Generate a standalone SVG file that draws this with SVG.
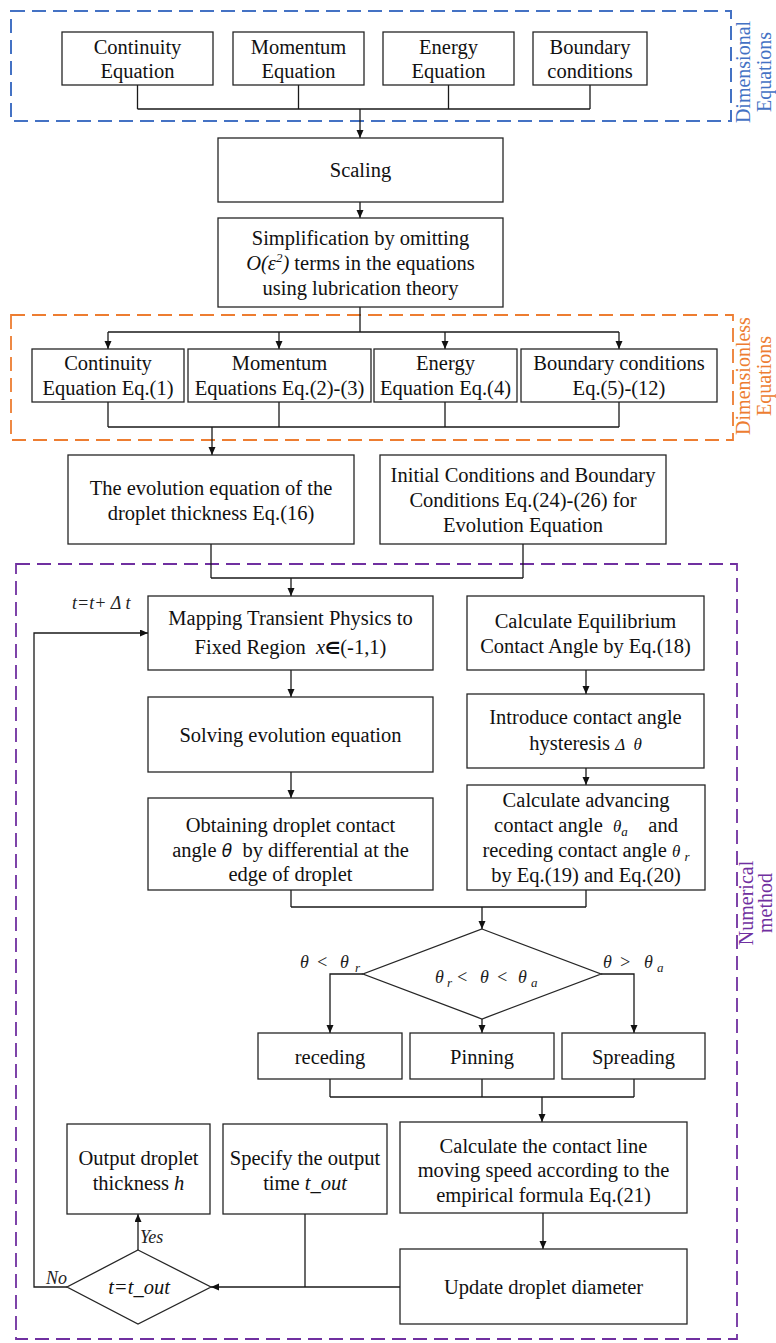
<svg xmlns="http://www.w3.org/2000/svg" width="776" height="1343" viewBox="0 0 776 1343">
<defs>
<marker id="ah" markerWidth="8" markerHeight="8" refX="8" refY="3.5" orient="auto" markerUnits="userSpaceOnUse">
<path d="M0,0 L8,3.5 L0,7 z" fill="#111"/>
</marker>
<style>
.box{fill:#fff;stroke:#262626;stroke-width:1.3}
text{font-family:'Liberation Serif','Times New Roman','DejaVu Serif',serif}
.t{font-size:20.5px;fill:#111;text-anchor:middle}
.i{font-size:18px;fill:#222;font-style:italic}
.c{fill:none;stroke:#1a1a1a;stroke-width:1.3}
.a{fill:none;stroke:#1a1a1a;stroke-width:1.3;marker-end:url(#ah)}
.lab{font-size:20px;text-anchor:middle}
.pre{white-space:pre}
</style>
</defs>
<rect width="776" height="1343" fill="#fff"/>

<g id="frames" fill="none">
<rect x="11" y="11" width="720" height="110" stroke="#4472C4" stroke-width="2" stroke-dasharray="14 7"/>
<rect x="11" y="315" width="722" height="125" stroke="#ED7D31" stroke-width="1.8" stroke-dasharray="14 7"/>
<rect x="16" y="564" width="721" height="775" stroke="#7030A0" stroke-width="1.8" stroke-dasharray="14 7"/>
</g>
<g id="frame-labels" font-family="Liberation Serif, Times New Roman, serif">
<text class="lab" fill="#4472C4" transform="translate(750,72) rotate(-90)">Dimensional</text>
<text class="lab" fill="#4472C4" transform="translate(771,72) rotate(-90)">Equations</text>
<text class="lab" fill="#ED7D31" transform="translate(750,376) rotate(-90)">Dimensionless</text>
<text class="lab" fill="#ED7D31" transform="translate(771,376) rotate(-90)">Equations</text>
<text class="lab" fill="#7030A0" transform="translate(753,903) rotate(-90)">Numerical</text>
<text class="lab" fill="#7030A0" transform="translate(772,903) rotate(-90)">method</text>
</g>

<g id="connectors">
<path class="c" d="M137.5,85 V109 M298.5,85 V109 M448.5,85 V109 M590,85 V109 M137.5,109 H590"/>
<path class="a" d="M360,109 V138"/>
<path class="a" d="M360,202 V218"/>
<path class="c" d="M360,307 V332 M108,332 H619"/>
<path class="a" d="M108,332 V349"/>
<path class="a" d="M279,332 V349"/>
<path class="a" d="M445,332 V349"/>
<path class="a" d="M619,332 V349"/>
<path class="c" d="M108,402 V427 M279,402 V427 M445,402 V427 M619,402 V427 M108,427 H619"/>
<path class="a" d="M212,427 V455"/>
<path class="c" d="M211,544 V578 M523,544 V578 M211,578 H523"/>
<path class="a" d="M291,578 V596"/>
<path class="a" d="M291,670 V697"/>
<path class="a" d="M291,772 V798"/>
<path class="a" d="M586,670 V694"/>
<path class="a" d="M586,768 V785"/>
<path class="c" d="M291,890 V907 M586,890 V907 M291,907 H586"/>
<path class="a" d="M482,907 V929"/>
<path class="a" d="M363,974 H330 V1033"/>
<path class="a" d="M601,974 H634 V1033"/>
<path class="a" d="M482,1019 V1033"/>
<path class="c" d="M330,1079 V1097 M482,1079 V1097 M634,1079 V1097 M330,1097 H634"/>
<path class="a" d="M542,1097 V1122"/>
<path class="a" d="M543,1213 V1249"/>
<path class="a" d="M400,1287 H211"/>
<path class="c" d="M305,1214 V1287"/>
<path class="a" d="M138,1250 V1214"/>
<path class="a" d="M67,1287 H34 V633 H148"/>
</g>

<g id="n-continuity1"><rect class="box" x="62" y="32" width="151" height="53"/><text class="t" x="137.5" y="54">Continuity</text><text class="t" x="137.5" y="78">Equation</text></g>
<g id="n-momentum1"><rect class="box" x="233" y="32" width="131" height="53"/><text class="t" x="298.5" y="54">Momentum</text><text class="t" x="298.5" y="78">Equation</text></g>
<g id="n-energy1"><rect class="box" x="383" y="32" width="131" height="53"/><text class="t" x="448.5" y="54">Energy</text><text class="t" x="448.5" y="78">Equation</text></g>
<g id="n-boundary1"><rect class="box" x="533" y="32" width="114" height="53"/><text class="t" x="590" y="54">Boundary</text><text class="t" x="590" y="78">conditions</text></g>

<g id="n-scaling"><rect class="box" x="218" y="138" width="285" height="64"/><text class="t" x="360.5" y="177">Scaling</text></g>
<g id="n-simplification"><rect class="box" x="218" y="218" width="285" height="89"/>
<text class="t" x="360.5" y="245">Simplification by omitting</text>
<text class="t" x="360.5" y="270"><tspan font-style="italic">O(ε<tspan font-size="13" dy="-8">2</tspan><tspan dy="8">)</tspan></tspan> terms in the equations</text>
<text class="t" x="360.5" y="295">using lubrication theory</text></g>

<g id="n-continuity2"><rect class="box" x="32" y="349" width="152" height="53"/><text class="t" x="108" y="370">Continuity</text><text class="t" x="108" y="395">Equation Eq.(1)</text></g>
<g id="n-momentum2"><rect class="box" x="188" y="349" width="183" height="53"/><text class="t" x="279.5" y="370">Momentum</text><text class="t" x="279.5" y="395">Equations Eq.(2)-(3)</text></g>
<g id="n-energy2"><rect class="box" x="374" y="349" width="143" height="53"/><text class="t" x="445.5" y="370">Energy</text><text class="t" x="445.5" y="395">Equation Eq.(4)</text></g>
<g id="n-boundary2"><rect class="box" x="521" y="349" width="196" height="53"/><text class="t" x="619" y="370">Boundary conditions</text><text class="t" x="619" y="395">Eq.(5)-(12)</text></g>

<g id="n-evolution"><rect class="box" x="68" y="455" width="286" height="89"/><text class="t" x="211" y="495">The evolution equation of the</text><text class="t" x="211" y="520">droplet thickness Eq.(16)</text></g>
<g id="n-initial"><rect class="box" x="380" y="455" width="286" height="89"/><text class="t" x="523" y="482">Initial Conditions and Boundary</text><text class="t" x="523" y="507">Conditions Eq.(24)-(26) for</text><text class="t" x="523" y="532">Evolution Equation</text></g>

<g id="lbl-loop"><text class="i" x="72" y="609" font-size="19">t=t+ Δ t</text></g>

<g id="n-mapping"><rect class="box" x="148" y="596" width="285" height="74"/><text class="t" x="290.5" y="625">Mapping Transient Physics to</text><text class="t pre" x="290.5" y="654">Fixed Region  <tspan font-style="italic">x</tspan><tspan font-family="DejaVu Sans" font-weight="bold" font-size="17">∈</tspan>(-1,1)</text></g>
<g id="n-equilibrium"><rect class="box" x="467" y="596" width="237" height="74"/><text class="t" x="585.5" y="628">Calculate Equilibrium</text><text class="t" x="585.5" y="653">Contact Angle by Eq.(18)</text></g>
<g id="n-solving"><rect class="box" x="148" y="697" width="285" height="75"/><text class="t" x="290.5" y="742">Solving evolution equation</text></g>
<g id="n-hysteresis"><rect class="box" x="467" y="694" width="237" height="74"/><text class="t" x="585.5" y="724">Introduce contact angle</text><text class="t pre" x="585.5" y="750">hysteresis <tspan font-style="italic" font-size="17">Δ  θ</tspan></text></g>
<g id="n-obtaining"><rect class="box" x="148" y="798" width="285" height="92"/><text class="t" x="290.5" y="832">Obtaining droplet contact</text><text class="t pre" x="290.5" y="857">angle <tspan font-style="italic" font-family="DejaVu Sans" font-size="17">θ</tspan>  by differential at the</text><text class="t" x="290.5" y="881">edge of droplet</text></g>
<g id="n-advancing"><rect class="box" x="467" y="785" width="238" height="105"/><text class="t" x="586" y="807">Calculate advancing</text><text class="t pre" x="586" y="832">contact angle  <tspan font-style="italic" font-size="17">θ</tspan><tspan font-style="italic" font-size="13" dy="4">a</tspan><tspan dy="-4">    and</tspan></text><text class="t pre" x="586" y="857">receding contact angle <tspan font-style="italic" font-size="17">θ </tspan><tspan font-style="italic" font-size="13" dy="4">r</tspan></text><text class="t" x="586" y="882">by Eq.(19) and Eq.(20)</text></g>

<g id="n-decision1"><polygon class="box" points="482,929 601,974 482,1019 363,974"/>
<text class="i"><tspan x="435" y="983">θ</tspan><tspan x="447" y="987" font-size="13">r</tspan><tspan x="456" y="983">&lt;</tspan><tspan x="480" y="983">θ</tspan><tspan x="496" y="983">&lt;</tspan><tspan x="518" y="983">θ</tspan><tspan x="531" y="987" font-size="13">a</tspan></text></g>
<g id="lbl-branch">
<text class="i"><tspan x="300" y="968">θ</tspan><tspan x="316" y="968">&lt;</tspan><tspan x="340" y="968">θ</tspan><tspan x="355" y="972" font-size="13">r</tspan></text>
<text class="i"><tspan x="603" y="968">θ</tspan><tspan x="619" y="968">&gt;</tspan><tspan x="644" y="968">θ</tspan><tspan x="657" y="972" font-size="13">a</tspan></text>
</g>

<g id="n-receding"><rect class="box" x="258" y="1033" width="144" height="46"/><text class="t" x="330" y="1064">receding</text></g>
<g id="n-pinning"><rect class="box" x="410" y="1033" width="144" height="46"/><text class="t" x="482" y="1064">Pinning</text></g>
<g id="n-spreading"><rect class="box" x="562" y="1033" width="143" height="46"/><text class="t" x="633.5" y="1064">Spreading</text></g>

<g id="n-output"><rect class="box" x="67" y="1124" width="143" height="90"/><text class="t" x="138.5" y="1165">Output droplet</text><text class="t" x="138.5" y="1190">thickness <tspan font-style="italic">h</tspan></text></g>
<g id="n-specify"><rect class="box" x="223" y="1124" width="164" height="90"/><text class="t" x="305" y="1165">Specify the output</text><text class="t" x="305" y="1190">time <tspan font-style="italic">t_out</tspan></text></g>
<g id="n-speed"><rect class="box" x="400" y="1122" width="287" height="91"/><text class="t" x="543.5" y="1153">Calculate the contact line</text><text class="t" x="543.5" y="1177">moving speed according to the</text><text class="t" x="543.5" y="1202">empirical formula Eq.(21)</text></g>
<g id="n-update"><rect class="box" x="400" y="1249" width="287" height="75"/><text class="t" x="543.5" y="1294">Update droplet diameter</text></g>
<g id="n-decision2"><polygon class="box" points="138,1250 211,1287 138,1324 67,1287"/><text class="t" x="139" y="1294" font-style="italic">t=t_out</text></g>
<g id="lbl-yesno"><text class="i" x="140" y="1243" font-size="19">Yes</text><text class="i" x="46" y="1284" font-size="19">No</text></g>
</svg>
